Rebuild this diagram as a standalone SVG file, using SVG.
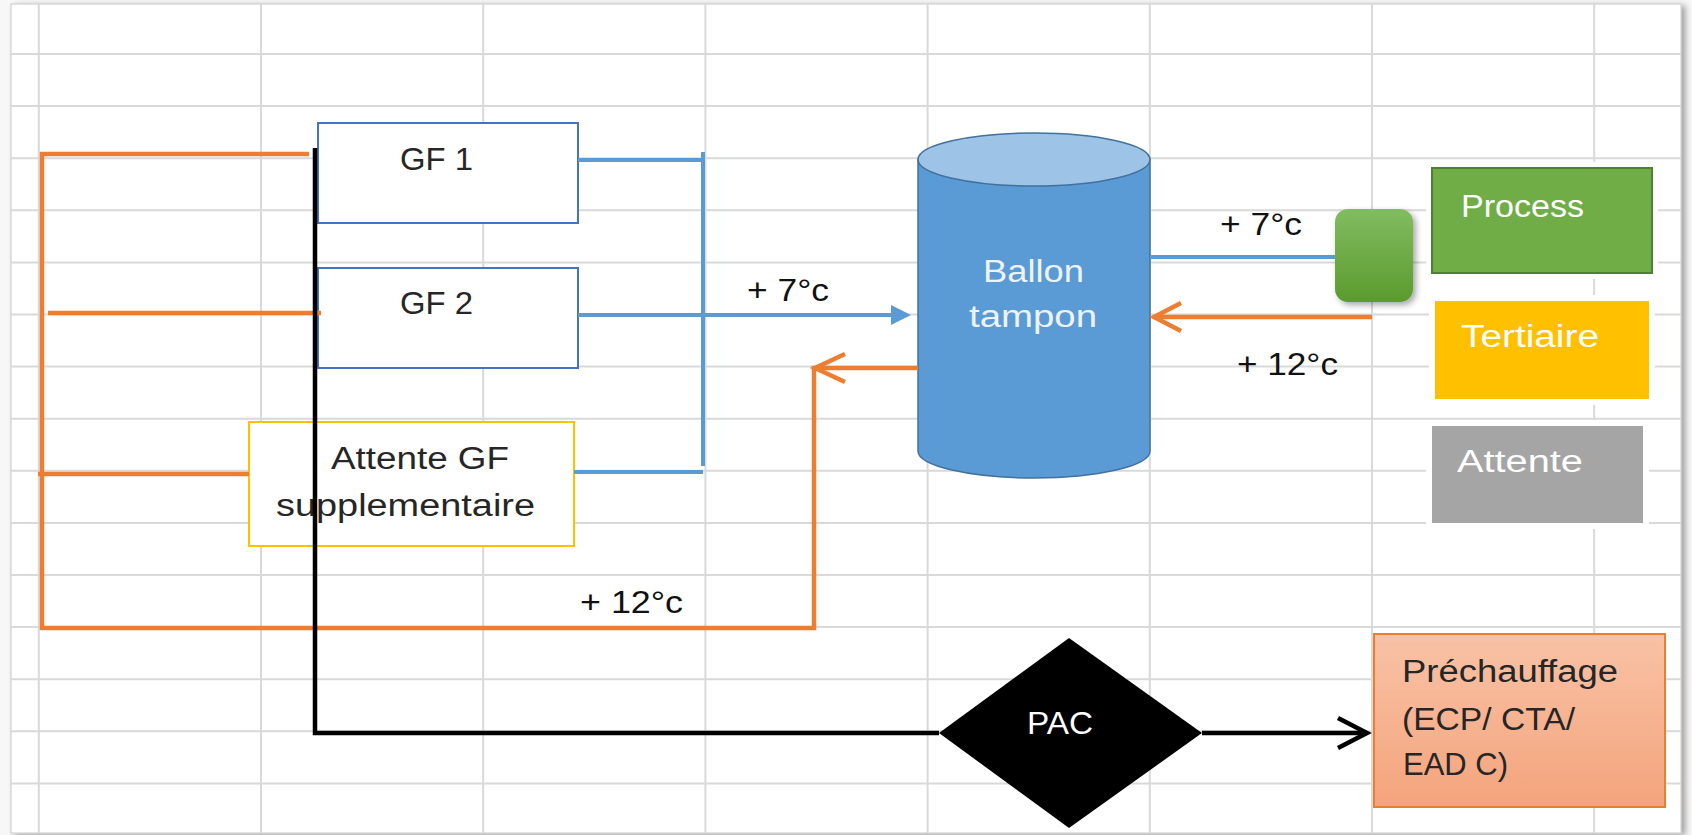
<svg xmlns="http://www.w3.org/2000/svg" width="1692" height="835" viewBox="0 0 1692 835">
  <defs>
    <style>
      .grid line { stroke: #D9D9D9; stroke-width: 2; }
      .t { font-family: "Liberation Sans", Arial, sans-serif; font-size: 31px; }
      .dark { fill: #262626; }
      .blk { fill: #111111; }
      .wht { fill: #FFFFFF; }
      .orange { stroke: #ED7D31; stroke-width: 4.5; fill: none; }
      .blue { stroke: #5B9BD5; stroke-width: 4; fill: none; }
      .black { stroke: #000000; stroke-width: 4.5; fill: none; }
      .gfbox { fill: #FFFFFF; stroke: #4472C4; stroke-width: 2; }
    </style>
    <linearGradient id="gGreen" x1="0" y1="0" x2="0" y2="1">
      <stop offset="0" stop-color="#82BC61"/>
      <stop offset="1" stop-color="#5A9B2D"/>
    </linearGradient>
    <linearGradient id="gSalmon" x1="0" y1="0" x2="0" y2="1">
      <stop offset="0" stop-color="#F8C2A6"/>
      <stop offset="1" stop-color="#F4A47C"/>
    </linearGradient>
    <filter id="shadow" x="-30%" y="-30%" width="160%" height="160%">
      <feDropShadow dx="3" dy="3" stdDeviation="3" flood-color="#000" flood-opacity="0.35"/>
    </filter>
    <filter id="frameShadow" x="-5%" y="-5%" width="110%" height="110%">
      <feDropShadow dx="4" dy="2" stdDeviation="3" flood-color="#000" flood-opacity="0.35"/>
    </filter>
  </defs>

  <!-- background and sheet frame -->
  <rect x="0" y="0" width="1692" height="835" fill="#F7F7F7"/>
  <rect x="11" y="4" width="1670" height="829" fill="#FFFFFF" stroke="#C8C8C8" stroke-width="1" filter="url(#frameShadow)"/>

  <!-- spreadsheet grid -->
  <g class="grid">
    <line x1="38.8" y1="4" x2="38.8" y2="833"/>
    <line x1="261" y1="4" x2="261" y2="833"/>
    <line x1="483.2" y1="4" x2="483.2" y2="833"/>
    <line x1="705.4" y1="4" x2="705.4" y2="833"/>
    <line x1="927.6" y1="4" x2="927.6" y2="833"/>
    <line x1="1149.8" y1="4" x2="1149.8" y2="833"/>
    <line x1="1372" y1="4" x2="1372" y2="833"/>
    <line x1="1594.2" y1="4" x2="1594.2" y2="833"/>
    <line x1="11" y1="54" x2="1681" y2="54"/>
    <line x1="11" y1="106.1" x2="1681" y2="106.1"/>
    <line x1="11" y1="158.2" x2="1681" y2="158.2"/>
    <line x1="11" y1="210.3" x2="1681" y2="210.3"/>
    <line x1="11" y1="262.4" x2="1681" y2="262.4"/>
    <line x1="11" y1="314.5" x2="1681" y2="314.5"/>
    <line x1="11" y1="366.6" x2="1681" y2="366.6"/>
    <line x1="11" y1="418.7" x2="1681" y2="418.7"/>
    <line x1="11" y1="470.8" x2="1681" y2="470.8"/>
    <line x1="11" y1="522.9" x2="1681" y2="522.9"/>
    <line x1="11" y1="575" x2="1681" y2="575"/>
    <line x1="11" y1="627.1" x2="1681" y2="627.1"/>
    <line x1="11" y1="679.2" x2="1681" y2="679.2"/>
    <line x1="11" y1="731.3" x2="1681" y2="731.3"/>
    <line x1="11" y1="783.4" x2="1681" y2="783.4"/>
  </g>

  <!-- nodes -->
  <g id="gf1">
    <rect class="gfbox" x="318" y="123" width="260" height="100"/>
    <text class="t dark" x="436.5" y="170" text-anchor="middle" textLength="73" lengthAdjust="spacingAndGlyphs">GF 1</text>
  </g>
  <g id="gf2">
    <rect class="gfbox" x="318" y="268" width="260" height="100"/>
    <text class="t dark" x="436.5" y="314" text-anchor="middle" textLength="73" lengthAdjust="spacingAndGlyphs">GF 2</text>
  </g>
  <g id="attente-gf">
    <rect x="249" y="422" width="325" height="124" fill="#FFFFFF" stroke="#FFC000" stroke-width="2"/>
    <text class="t dark" x="420" y="469" text-anchor="middle" textLength="178" lengthAdjust="spacingAndGlyphs">Attente GF</text>
    <text class="t dark" x="405.5" y="516" text-anchor="middle" textLength="259" lengthAdjust="spacingAndGlyphs">supplementaire</text>
  </g>
  <g id="ballon-tampon">
    <path d="M918,159.5 L918,451 A116,27 0 0 0 1150,451 L1150,159.5 Z" fill="#5B9BD5" stroke="#41719C" stroke-width="1.5"/>
    <ellipse cx="1034" cy="159.5" rx="116" ry="26.5" fill="#9DC3E6" stroke="#41719C" stroke-width="1.5"/>
    <text class="t" fill="#EEF3FA" x="1033.5" y="282" text-anchor="middle" textLength="101" lengthAdjust="spacingAndGlyphs">Ballon</text>
    <text class="t" fill="#EEF3FA" x="1033" y="327" text-anchor="middle" textLength="128" lengthAdjust="spacingAndGlyphs">tampon</text>
  </g>
  <g id="collecteur">
    <rect x="1335" y="209" width="78" height="93" rx="13" ry="13" fill="url(#gGreen)" filter="url(#shadow)"/>
  </g>
  <g id="process">
    <rect x="1426" y="162" width="232" height="117" fill="#FFFFFF"/>
    <rect x="1432" y="168" width="220" height="105" fill="#70AD47" stroke="#507E32" stroke-width="2"/>
    <text class="t wht" x="1461" y="217" textLength="123" lengthAdjust="spacingAndGlyphs">Process</text>
  </g>
  <g id="tertiaire">
    <rect x="1429" y="295" width="226" height="110" fill="#FFFFFF"/>
    <rect x="1435" y="301" width="214" height="98" fill="#FFC000"/>
    <text class="t wht" x="1461" y="347" textLength="138" lengthAdjust="spacingAndGlyphs">Tertiaire</text>
  </g>
  <g id="attente">
    <rect x="1426" y="420" width="223" height="109" fill="#FFFFFF"/>
    <rect x="1432" y="426" width="211" height="97" fill="#A5A5A5"/>
    <text class="t wht" x="1457" y="472" textLength="126" lengthAdjust="spacingAndGlyphs">Attente</text>
  </g>
  <g id="pac">
    <polygon points="939,733 1069,638 1202,733 1069,828" fill="#000000"/>
    <text class="t wht" x="1027" y="734" textLength="66" lengthAdjust="spacingAndGlyphs">PAC</text>
  </g>
  <g id="prechauffage">
    <rect x="1374" y="634" width="291" height="173" fill="url(#gSalmon)" stroke="#ED7D31" stroke-width="2"/>
    <text class="t dark" x="1402" y="682" textLength="216" lengthAdjust="spacingAndGlyphs">Préchauffage</text>
    <text class="t dark" x="1402" y="730" textLength="173" lengthAdjust="spacingAndGlyphs">(ECP/ CTA/</text>
    <text class="t dark" x="1403" y="775" textLength="105" lengthAdjust="spacingAndGlyphs">EAD C)</text>
  </g>

  <!-- connectors -->
  <g id="connectors">
    <!-- orange return network -->
    <polyline class="orange" points="309,154 42,154 42,628 814,628 814,368 918,368"/>
    <line class="orange" x1="48" y1="313" x2="321" y2="313"/>
    <line class="orange" x1="38" y1="474" x2="249" y2="474"/>
    <polyline class="orange" points="845,354 815,368 845,382"/>
    <line class="orange" x1="1372" y1="317" x2="1153" y2="317"/>
    <polyline class="orange" points="1181,303 1154,317 1181,331"/>
    <!-- blue supply network -->
    <line class="blue" x1="578" y1="160" x2="703" y2="160"/>
    <line class="blue" x1="703" y1="152" x2="703" y2="466"/>
    <line class="blue" x1="574" y1="472" x2="703" y2="472"/>
    <line class="blue" x1="578" y1="315" x2="893" y2="315"/>
    <polygon points="891,305 911,315 891,325" fill="#5B9BD5"/>
    <line class="blue" x1="1150" y1="257" x2="1335" y2="257"/>
    <!-- black PAC line -->
    <polyline class="black" points="315,148 315,733 939,733"/>
    <line class="black" x1="1202" y1="733" x2="1366" y2="733"/>
    <polyline class="black" points="1338,718 1367,733 1338,748"/>
    <!-- temperature labels -->
    <text class="t blk" x="747" y="301" textLength="82" lengthAdjust="spacingAndGlyphs">+ 7°c</text>
    <text class="t blk" x="1220" y="235" textLength="82" lengthAdjust="spacingAndGlyphs">+ 7°c</text>
    <text class="t blk" x="1237" y="375" textLength="101" lengthAdjust="spacingAndGlyphs">+ 12°c</text>
    <text class="t blk" x="580" y="613" textLength="103" lengthAdjust="spacingAndGlyphs">+ 12°c</text>
  </g>
</svg>
